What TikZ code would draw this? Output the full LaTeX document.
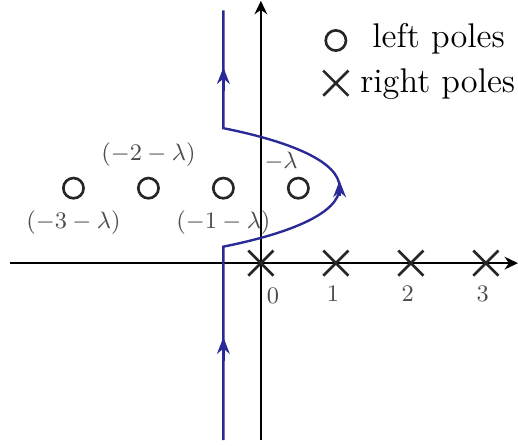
\documentclass[tikz,border=0pt]{standalone}
\usetikzlibrary{arrows.meta,shapes.misc}
\definecolor{contourblue}{RGB}{42,42,150}
\tikzset{
  leftpole/.style={circle, draw=black!85, line width=1pt, minimum size=0.27cm, inner sep=0pt},
  rightpole/.style={cross out, draw=black!85, line width=1pt, minimum size=0.3cm, inner sep=0pt},
  polelabel/.style={text=black!70, inner sep=1pt, font=\fontsize{9.5}{11}\selectfont},
  axis/.style={line width=0.6pt, -{Stealth[length=0.18cm,width=0.17cm]}},
  contour/.style={contourblue, line width=0.9pt},
  flow/.style={contour, -{Stealth[length=0.22cm,width=0.17cm]}},
  legendtext/.style={anchor=base west, inner sep=0pt, font=\fontsize{13}{16}\selectfont},
}

\begin{document}
\begin{tikzpicture}
  \useasboundingbox (-3.48,-2.43) rectangle (3.43,3.51);

  % axes
  \coordinate (xl) at (-3.35,0);
  \coordinate (xr) at (3.43,0);
  \coordinate (yb) at (0,-2.36);
  \coordinate (yt) at (0,3.5);
  \draw[axis] (xl) -- (xr);
  \draw[axis] (yb) -- (yt);

  % left poles
  \node[leftpole] (p0) at (0.5,1) {};
  \node[leftpole, label={[polelabel, label distance=0.1cm]below:$(-1-\lambda)$}] (p1) at (-0.5,1) {};
  \node[leftpole, label={[polelabel, label distance=0.1cm]above:$(-2-\lambda)$}] (p2) at (-1.5,1) {};
  \node[leftpole, label={[polelabel, label distance=0.1cm]below:$(-3-\lambda)$}] (p3) at (-2.5,1) {};
  \node[polelabel] (l0) at (0.27,1.36) {$-\lambda$};

  % right poles
  \node[rightpole] (z0) at (0,0) {};
  \node[rightpole] (z1) at (1,0) {};
  \node[rightpole] (z2) at (2,0) {};
  \node[rightpole] (z3) at (3,0) {};
  \node[polelabel] (t0) at (0.16,-0.43) {$0$};
  \node[polelabel] (t1) at (0.96,-0.41) {$1$};
  \node[polelabel] (t2) at (1.96,-0.41) {$2$};
  \node[polelabel] (t3) at (2.96,-0.41) {$3$};

  % contour
  \coordinate (cb) at (-0.5,-2.36);
  \coordinate (c1) at (-0.5,0.22);
  \coordinate (cp) at (1.05,1.01);
  \coordinate (c2) at (-0.5,1.8);
  \coordinate (ct) at (-0.5,3.37);
  \draw[contour] (cb) -- (c1)
    .. controls (0.4,0.4) and (1.05,0.67) .. (cp)
    .. controls (1.05,1.35) and (0.4,1.62) .. (c2) -- (ct);
  \draw[flow] (-0.5,-1.3) -- (-0.5,-0.99);
  \draw[flow] (-0.5,2.3) -- (-0.5,2.61);
  \draw[flow] (1.05,0.9) -- (1.05,1.1);

  % legend
  \node[leftpole] (kl) at (1,2.97) {};
  \node[legendtext] (kltext) at (1.48,2.87) {left poles};
  \node[rightpole] (kr) at (1,2.4) {};
  \node[legendtext] (krtext) at (1.32,2.27) {right poles};
\end{tikzpicture}
\end{document}
